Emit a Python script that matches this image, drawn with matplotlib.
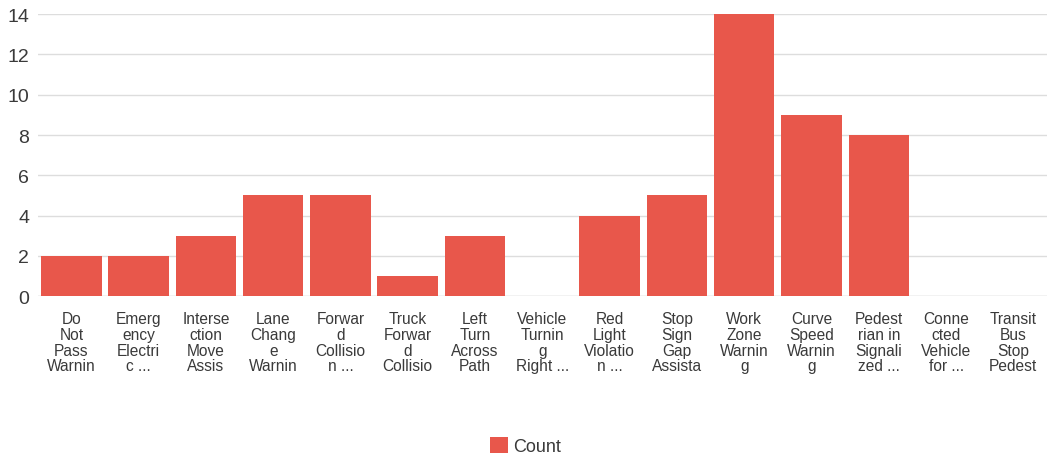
import matplotlib
matplotlib.use("Agg")
import matplotlib.pyplot as plt
from matplotlib.patches import Patch

categories = [
    "Do\nNot\nPass\nWarnin",
    "Emerg\nency\nElectri\nc ...",
    "Interse\nction\nMove\nAssis",
    "Lane\nChang\ne\nWarnin",
    "Forwar\nd\nCollisio\nn ...",
    "Truck\nForwar\nd\nCollisio",
    "Left\nTurn\nAcross\nPath",
    "Vehicle\nTurnin\ng\nRight ...",
    "Red\nLight\nViolatio\nn ...",
    "Stop\nSign\nGap\nAssista",
    "Work\nZone\nWarnin\ng",
    "Curve\nSpeed\nWarnin\ng",
    "Pedest\nrian in\nSignali\nzed ...",
    "Conne\ncted\nVehicle\nfor ...",
    "Transit\nBus\nStop\nPedest",
]
counts = [2, 2, 3, 5, 5, 1, 3, 0, 4, 5, 14, 9, 8, 0, 0]
yticks = [0, 2, 4, 6, 8, 10, 12, 14]
series_name = "Count"

bar_color = "#e8574b"
text_color = "#3a3a3a"

plt.rcParams['font.family'] = ['Liberation Sans', 'DejaVu Sans']

fig = plt.figure(figsize=(10.47, 4.6), dpi=100)
ax = fig.add_axes([0.036, 0.354, 0.964, 0.613])

x = list(range(len(categories)))
ax.bar(x, counts, width=0.9, color=bar_color, zorder=2)
ax.set_xlim(-0.5, len(categories) - 0.5)
ax.set_ylim(0, 14)
ax.set_yticks(yticks)
ax.set_yticklabels([str(v) for v in yticks], fontsize=14, color=text_color)
ax.set_xticks(x)
ax.set_xticklabels(categories, fontsize=11.2, color=text_color, linespacing=1.05)
ax.tick_params(axis='x', length=0, pad=11)
ax.tick_params(axis='y', length=0, pad=6)
ax.grid(axis='y', color="#dddddd", linewidth=1, zorder=0)
for s in ax.spines.values():
    s.set_visible(False)
ax.axhline(0, color="#dddddd", linewidth=1, zorder=1)

handles = [Patch(facecolor=bar_color, edgecolor='none', label=series_name)]
fig.legend(handles=handles, loc='center', bbox_to_anchor=(0.502, 0.028),
           frameon=False, fontsize=13, handlelength=1.0, handleheight=1.0,
           handletextpad=0.3, labelcolor=text_color)

fig.savefig("out.png", dpi=100)
